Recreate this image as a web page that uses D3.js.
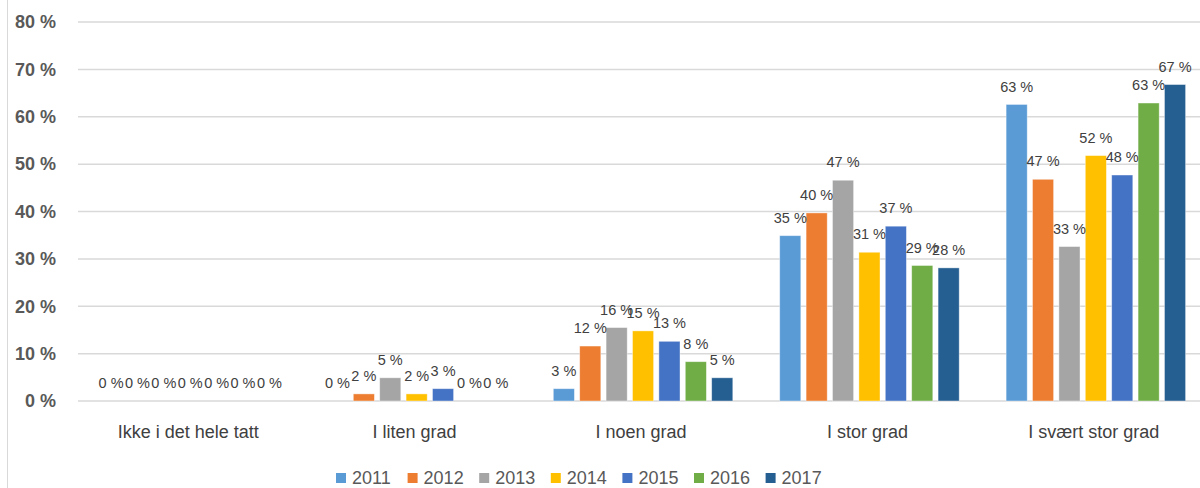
<!DOCTYPE html>
<html>
<head>
<meta charset="utf-8">
<script src="https://cdn.jsdelivr.net/npm/d3@7"></script>
<style>
    body { margin: 0; background: #fff; }
    svg { display: block; font-family: "Liberation Sans", Arial, sans-serif; }
</style>
</head>
<body>
<div id="chart"></div>
<script>
(function () {

    // Data
    var categories = ["Ikke i det hele tatt", "I liten grad", "I noen grad", "I stor grad", "I svært stor grad"];
    var years = ["2011", "2012", "2013", "2014", "2015", "2016", "2017"];
    var colors = ["#5B9BD5", "#ED7D31", "#A5A5A5", "#FFC000", "#4472C4", "#70AD47", "#255E91"];

    // one array per year, values by category (percent)
    var v2011 = [0, 0, 2.6, 34.9, 62.6];
    var v2012 = [0, 1.5, 11.6, 39.7, 46.8];
    var v2013 = [0, 4.9, 15.5, 46.6, 32.6];
    var v2014 = [0, 1.5, 14.8, 31.4, 51.8];
    var v2015 = [0, 2.6, 12.6, 36.9, 47.7];
    var v2016 = [0, 0, 8.3, 28.6, 62.9];
    var v2017 = [0, 0, 4.9, 28.1, 66.8];
    var seriesValues = [v2011, v2012, v2013, v2014, v2015, v2016, v2017];

    var yTicks = [0, 10, 20, 30, 40, 50, 60, 70, 80];

    var width = 1200, height = 488;

    var svg = d3.select("#chart")
        .append("svg")
        .attr("width", width)
        .attr("height", height);

    // Scales
    var x0 = d3.scaleBand()
        .domain(categories)
        .range([77, 1209]);

    var x1 = d3.scaleBand()
        .domain(years)
        .range([23.5, 203])
        .paddingInner(0.2);

    var y = d3.scaleLinear()
        .domain([0, 80])
        .range([401, 22]);

    var color = d3.scaleOrdinal()
        .domain(years)
        .range(colors);

    // outer border (left edge only visible)
    svg.append("line")
        .attr("x1", 7.5).attr("x2", 7.5)
        .attr("y1", 0).attr("y2", height)
        .attr("stroke", "#d9d9d9")
        .attr("stroke-width", 1);

    // Gridlines
    svg.append("g")
        .selectAll("line")
        .data(yTicks)
        .enter().append("line")
        .attr("x1", 78)
        .attr("x2", width)
        .attr("y1", function (d) { return y(d); })
        .attr("y2", function (d) { return y(d); })
        .attr("stroke", "#d9d9d9")
        .attr("stroke-width", 1.5);

    // Y axis labels
    var yAxis = d3.axisLeft(y)
        .tickValues(yTicks)
        .tickSize(0)
        .tickPadding(0)
        .tickFormat(function (d) { return d + " %"; });

    var yg = svg.append("g")
        .attr("transform", "translate(56,0)")
        .call(yAxis);
    yg.select(".domain").remove();
    yg.selectAll("text")
        .attr("fill", "#595959")
        .style("font-size", "18px")
        .style("font-weight", "bold")
        .style("font-family", "Liberation Sans, Arial, sans-serif");

    // Bars
    var rows = [];
    categories.forEach(function (c, ci) {
        years.forEach(function (yr, yi) {
            rows.push({cat: c, year: yr, value: seriesValues[yi][ci]});
        });
    });

    var groups = svg.append("g");

    groups.selectAll(".bar")
        .data(rows)
        .enter().append("rect")
        .attr("class", "bar")
        .attr("x", function (d) { return x0(d.cat) + x1(d.year); })
        .attr("y", function (d) { return y(d.value); })
        .attr("width", x1.bandwidth())
        .attr("height", function (d) { return y(0) - y(d.value); })
        .attr("fill", function (d) { return color(d.year); })
        .attr("stroke", "#ffffff")
        .attr("stroke-opacity", 0.5)
        .attr("stroke-width", 0.8);

    // Value labels
    groups.selectAll(".lbl")
        .data(rows)
        .enter().append("text")
        .attr("class", "lbl")
        .attr("x", function (d) { return x0(d.cat) + x1(d.year) + x1.bandwidth() / 2; })
        .attr("y", function (d) { return y(d.value) - 18; })
        .attr("dy", "0.35em")
        .attr("text-anchor", "middle")
        .attr("fill", "#404040")
        .style("font-size", "14.5px")
        .text(function (d) { return Math.round(d.value) + " %"; });

    // Category labels
    svg.append("g")
        .selectAll("text")
        .data(categories)
        .enter().append("text")
        .attr("x", function (d) { return x0(d) + x0.bandwidth() / 2 - 2; })
        .attr("y", 432)
        .attr("dy", "0.35em")
        .attr("text-anchor", "middle")
        .attr("fill", "#404040")
        .style("font-size", "18px")
        .text(function (d) { return d; });

    // Legend
    var legend = svg.append("g")
        .selectAll(".legend")
        .data(years)
        .enter().append("g")
        .attr("class", "legend")
        .attr("transform", function (d, i) { return "translate(" + (336 + i * 71.6) + ",478)"; });

    legend.append("rect")
        .attr("x", 0)
        .attr("y", -5)
        .attr("width", 10)
        .attr("height", 10)
        .attr("fill", function (d) { return color(d); });

    legend.append("text")
        .attr("x", 16)
        .attr("y", 0)
        .attr("dy", "0.35em")
        .attr("fill", "#595959")
        .style("font-size", "18px")
        .text(function (d) { return d; });

})();
</script>
</body>
</html>
